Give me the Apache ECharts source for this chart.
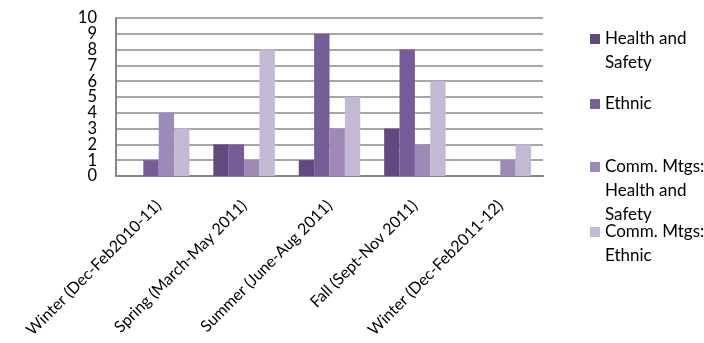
<!DOCTYPE html>
<html>
<head>
<meta charset="utf-8">
<script src="https://cdn.jsdelivr.net/npm/echarts@6/dist/echarts.min.js"></script>
<style>
  html, body { margin: 0; padding: 0; background: #fff; }
  #chart { width: 704px; height: 343px; }
</style>
</head>
<body>
<div id="chart"></div>
<script>
// Seasons on the category axis
const seasons = [
  'Winter (Dec-Feb2010-11)',
  'Spring (March-May 2011)',
  'Summer (June-Aug 2011)',
  'Fall (Sept-Nov 2011)',
  'Winter (Dec-Feb2011-12)'
];

// Counts per season
const healthSafety = [0, 2, 1, 3, 0];
const ethnic = [1, 2, 9, 8, 0];
const commHealthSafety = [4, 1, 3, 2, 1];
const commEthnic = [3, 8, 5, 6, 2];

// Value-axis tick labels
const yTicks = ['0', '1', '2', '3', '4', '5', '6', '7', '8', '9', '10'];

const seriesNames = ['Health and Safety', 'Ethnic', 'Comm. Mtgs: Health and Safety', 'Comm. Mtgs: Ethnic'];
// Wrapped legend text for each series
const legendLines = [
  ['Health and', 'Safety'],
  ['Ethnic'],
  ['Comm. Mtgs:', 'Health and', 'Safety'],
  ['Comm. Mtgs:', 'Ethnic']
];
const colors = ['#604a7f', '#775c9a', '#9d8ab8', '#c3b9d4'];

const FONT = 'Lato, "Open Sans", sans-serif';
const LINE_H = 24;
// Centre of the first legend line for each item
const legendFirstLine = [34, 99, 162, 227];

// Legend text is centred on its marker, so leading blank lines keep
// the marker level with the first line of a wrapped label.
const legends = legendLines.map((lines, i) => {
  const n = lines.length;
  const padded = new Array(n - 1).fill(' ').concat(lines).join('\n');
  const totalLines = 2 * n - 1;
  return {
    data: [seriesNames[i]],
    left: 585,
    top: legendFirstLine[i] - (totalLines * LINE_H) / 2,
    orient: 'vertical',
    icon: 'rect',
    itemWidth: 10,
    itemHeight: 10,
    itemGap: 0,
    selectedMode: false,
    formatter: () => padded,
    textStyle: {
      fontFamily: FONT,
      fontSize: 17,
      color: '#000',
      lineHeight: LINE_H
    }
  };
});

const data = [healthSafety, ethnic, commHealthSafety, commEthnic];

const chart = echarts.init(document.getElementById('chart'), null, { renderer: 'canvas' });
chart.setOption({
  animation: false,
  backgroundColor: '#fff',
  color: colors,
  legend: legends,
  grid: { left: 116, right: 161, top: 18, bottom: 167, containLabel: false },
  xAxis: {
    type: 'category',
    data: seasons,
    axisLine: { show: true, lineStyle: { color: '#868686', width: 2 } },
    axisTick: { show: false },
    axisLabel: {
      interval: 0,
      rotate: 45,
      margin: 27,
      fontFamily: FONT,
      fontSize: 16,
      color: '#000'
    }
  },
  yAxis: [
    {
      // value scale for the bars, with gridlines
      type: 'value',
      min: 0,
      max: 10,
      interval: 1,
      position: 'left',
      axisLine: { show: true, lineStyle: { color: '#868686', width: 2 } },
      axisTick: { show: false },
      axisLabel: { show: false },
      splitLine: { show: true, lineStyle: { color: '#8a8a8a', width: 1.5 } }
    },
    {
      // tick labels, one per gridline
      type: 'category',
      data: yTicks,
      boundaryGap: false,
      position: 'left',
      axisLine: { show: false },
      axisTick: { show: false },
      splitLine: { show: false },
      axisLabel: {
        interval: 0,
        margin: 19,
        fontFamily: FONT,
        fontSize: 16.5,
        color: '#000'
      }
    }
  ],
  series: data.map((vals, i) => ({
    name: seriesNames[i],
    type: 'bar',
    yAxisIndex: 0,
    data: vals,
    barGap: '0%',
    barCategoryGap: '28%',
    itemStyle: { color: colors[i] }
  }))
});
</script>
</body>
</html>
